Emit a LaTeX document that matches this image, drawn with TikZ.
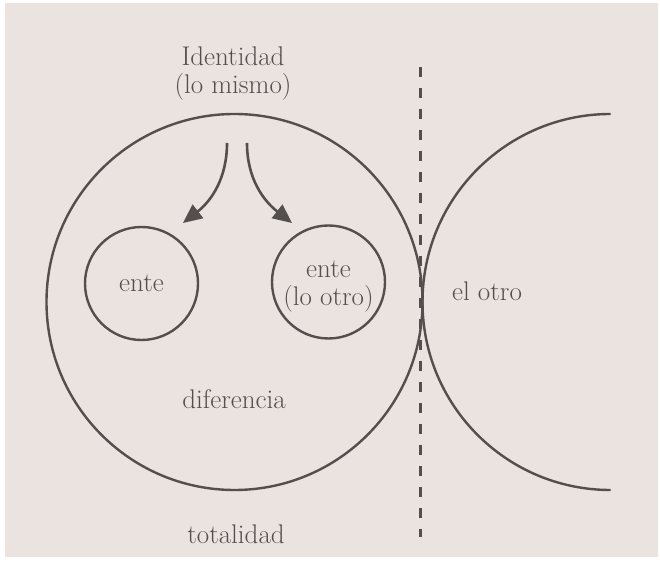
\documentclass[tikz,border=0pt]{standalone}
\usepackage{tikz}
\usetikzlibrary{arrows.meta,positioning}
\definecolor{papel}{RGB}{235,227,223}
\definecolor{tinta}{RGB}{84,78,77}

\begin{document}
\begin{tikzpicture}[
    x=1pt, y=1pt,
    rueda/.style={circle, draw=tinta, line width=2.4pt, inner sep=0pt},
    texto/.style={text=tinta, align=center, font=\fontsize{27}{28}\selectfont},
    flecha/.style={-{Triangle[length=19pt,width=17pt]}, draw=tinta, line width=2.6pt},
    frontera/.style={draw=tinta, line width=3pt, dash pattern=on 10pt off 11pt}
]
\useasboundingbox (0,0) rectangle (660,567);
\fill[white] (0,0) rectangle (660,567);
\fill[papel] (5,10) rectangle (658,564);

% Totalidad y lo otro
\node[rueda, minimum size=376pt] (mismo) at (234.5,265) {};
\draw[tinta, line width=2.4pt] (610.5,453) arc[start angle=90, end angle=270, radius=188];

% Entes
\node[rueda, minimum size=113pt, texto] (ente) at (141.5,283.5) {ente};
\node[rueda, minimum size=113pt] (otro) at (328.5,285) {};
\node[texto] (otrotexto) at (328.5,280) {ente\\(lo otro)};

% Textos
\node[texto] (identidad) at (233,493) {Identidad\\(lo mismo)};
\node[texto] (diferencia) at (234,168) {diferencia};
\node[texto] (totalidad) at (236,33) {totalidad};
\node[texto] (elotro) at (487,276) {el otro};

% Flechas
\coordinate (izq) at (227,424);
\coordinate (der) at (247,424);
\coordinate (pizq) at (183,344);
\coordinate (pder) at (292,344);
\draw[flecha] (izq) to[out=-90, in=38] (pizq);
\draw[flecha] (der) to[out=-90, in=142] (pder);

% Linea de separacion
\coordinate (arriba) at (420,500);
\coordinate (abajo) at (420,30);
\draw[frontera] (arriba) -- (abajo);

\end{tikzpicture}
\end{document}
